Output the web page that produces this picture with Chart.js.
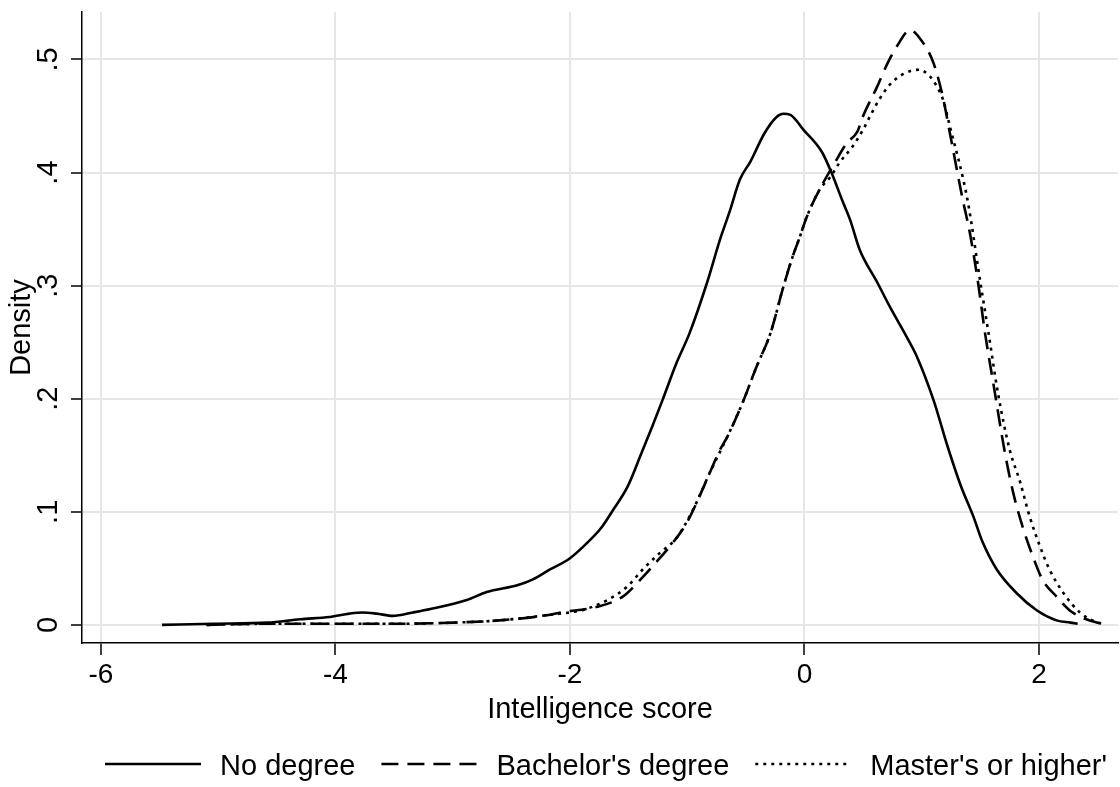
<!DOCTYPE html>
<html>
<head>
<meta charset="utf-8">
<style>
  html, body { margin: 0; padding: 0; background: #fff; }
  #wrap { width: 1120px; height: 787px; position: relative; }
</style>
<script src="https://cdn.jsdelivr.net/npm/chart.js@4.4.1/dist/chart.umd.min.js"></script>
</head>
<body>
<div id="wrap"><canvas id="densityChart"></canvas></div>
<script>
// Kernel density of intelligence score by degree
const FONT = '"Liberation Sans", Arial, Helvetica, sans-serif';

const xTicks = [-6, -4, -2, 0, 2];
const yTicks = [0, 0.1, 0.2, 0.3, 0.4, 0.5];
const yTickLabels = ['0', '.1', '.2', '.3', '.4', '.5'];
const seriesNames = ['No degree', "Bachelor's degree", "Master's or higher'"];

const noDegreeX = [-5.48, -5.04, -4.58, -4.30, -4.05, -3.88, -3.77, -3.65, -3.51, -3.34, -3.19, -2.88, -2.71, -2.45,
  -2.32, -2.17, -2.00, -1.83, -1.74, -1.63, -1.51, -1.39, -1.30, -1.21, -1.09, -0.98, -0.83, -0.72, -0.64, -0.55,
  -0.46, -0.34, -0.24, -0.18, -0.12, -0.01, 0.15, 0.23, 0.32, 0.39, 0.47, 0.62, 0.73, 0.87, 0.96, 1.10, 1.22,
  1.33, 1.44, 1.52, 1.64, 1.81, 1.98, 2.15, 2.27, 2.33];
const noDegreeY = [0.000, 0.001, 0.002, 0.005, 0.007, 0.010, 0.011, 0.010, 0.008, 0.011, 0.014, 0.022, 0.029, 0.035,
  0.040, 0.049, 0.059, 0.075, 0.085, 0.102, 0.122, 0.152, 0.175, 0.199, 0.232, 0.258, 0.303, 0.341, 0.365, 0.394,
  0.410, 0.435, 0.449, 0.452, 0.451, 0.438, 0.418, 0.400, 0.376, 0.358, 0.332, 0.303, 0.281, 0.255, 0.237, 0.199, 0.158,
  0.124, 0.096, 0.073, 0.049, 0.028, 0.013, 0.004, 0.002, 0.001];

const bachelorX = [-5.10, -4.60, -4.00, -3.50, -3.00, -2.60, -2.17, -2.08, -1.77, -1.55, -1.40, -1.26, -1.12, -1.00,
  -0.89, -0.81, -0.72, -0.66, -0.53, -0.41, -0.29, -0.18, -0.10, -0.04, 0.02, 0.16, 0.26, 0.36, 0.45, 0.50, 0.62,
  0.71, 0.79, 0.90, 1.01, 1.10, 1.18, 1.24, 1.35, 1.41, 1.48, 1.54, 1.61, 1.71, 1.78, 1.86, 1.95, 2.03, 2.15, 2.26,
  2.38, 2.50, 2.55];
const bachelorY = [0.000, 0.001, 0.001, 0.001, 0.002, 0.004, 0.009, 0.011, 0.016, 0.025, 0.040, 0.056, 0.073, 0.091,
  0.115, 0.134, 0.155, 0.166, 0.196, 0.228, 0.258, 0.299, 0.326, 0.343, 0.361, 0.391, 0.409, 0.426, 0.436, 0.450, 0.476,
  0.497, 0.512, 0.526, 0.515, 0.497, 0.467, 0.435, 0.376, 0.347, 0.303, 0.258, 0.214, 0.152, 0.117, 0.087, 0.060, 0.040,
  0.025, 0.013, 0.006, 0.002, 0.001];

const masterX = [-5.10, -4.60, -4.00, -3.50, -3.00, -2.60, -2.17, -1.90, -1.68, -1.51, -1.38, -1.23, -1.09, -0.95,
  -0.81, -0.66, -0.53, -0.41, -0.29, -0.18, -0.10, -0.04, 0.02, 0.13, 0.22, 0.30, 0.41, 0.50, 0.56, 0.64, 0.73, 0.84,
  0.98, 1.07, 1.13, 1.18, 1.24, 1.39, 1.50, 1.57, 1.65, 1.75, 1.84, 1.92, 2.01, 2.09, 2.21, 2.35, 2.50, 2.56];
const masterY = [0.000, 0.001, 0.001, 0.001, 0.002, 0.004, 0.009, 0.013, 0.022, 0.034, 0.049, 0.064, 0.077, 0.102,
  0.134, 0.166, 0.196, 0.228, 0.258, 0.299, 0.326, 0.343, 0.361, 0.385, 0.396, 0.409, 0.423, 0.438, 0.450, 0.465, 0.478, 0.487,
  0.491, 0.485, 0.476, 0.465, 0.441, 0.376, 0.303, 0.258, 0.205, 0.155, 0.126, 0.096, 0.069, 0.049, 0.028, 0.011, 0.002, 0.001];

function toPoints(xs, ys) {
  return xs.map((x, i) => ({ x: x, y: ys[i] }));
}

// legend drawn Stata-style below the axis title
const bottomLegend = {
  id: 'bottomLegend',
  afterDraw(chart) {
    const ctx = chart.ctx;
    const lineLen = 96, lineGap = 19, itemGap = 26;
    ctx.save();
    ctx.font = '29px ' + FONT;
    const widths = chart.data.datasets.map(d => ctx.measureText(d.label).width);
    let total = 0;
    widths.forEach((w, i) => { total += lineLen + lineGap + w + (i < widths.length - 1 ? itemGap : 0); });
    let x = 606 - total / 2;
    const y = 764;
    chart.data.datasets.forEach((d, i) => {
      ctx.strokeStyle = '#000';
      ctx.lineWidth = 2.4;
      ctx.setLineDash(d.borderDash || []);
      ctx.beginPath();
      ctx.moveTo(x, y);
      ctx.lineTo(x + lineLen, y);
      ctx.stroke();
      x += lineLen + lineGap;
      ctx.setLineDash([]);
      ctx.fillStyle = '#000';
      ctx.textAlign = 'left';
      ctx.textBaseline = 'middle';
      ctx.fillText(d.label, x, y + 3);
      x += widths[i] + itemGap;
    });
    ctx.restore();
  }
};

new Chart(document.getElementById('densityChart'), {
  type: 'line',
  data: {
    datasets: [{
      label: seriesNames[0],
      data: toPoints(noDegreeX, noDegreeY),
      borderColor: '#000',
      borderWidth: 2.6,
      borderDash: [],
      pointRadius: 0,
      cubicInterpolationMode: 'monotone'
    }, {
      label: seriesNames[1],
      data: toPoints(bachelorX, bachelorY),
      borderColor: '#000',
      borderWidth: 2.6,
      borderDash: [17, 9],
      pointRadius: 0,
      cubicInterpolationMode: 'monotone'
    }, {
      label: seriesNames[2],
      data: toPoints(masterX, masterY),
      borderColor: '#000',
      borderWidth: 2.6,
      borderDash: [3, 5],
      pointRadius: 0,
      cubicInterpolationMode: 'monotone'
    }]
  },
  options: {
    responsive: true,
    maintainAspectRatio: false,
    animation: false,
    layout: { padding: { top: 12, right: 2, left: 0, bottom: 52 } },
    plugins: {
      legend: { display: false },
      tooltip: { enabled: false }
    },
    scales: {
      x: {
        type: 'linear',
        min: -6.162,
        max: 2.674,
        afterBuildTicks: function(scale) {
          scale.ticks = xTicks.map(v => ({ value: v }));
        },
        afterFit: function(scale) {
          scale.height = 92;
          scale.paddingLeft = 0;
          scale.paddingRight = 0;
        },
        grid: { color: '#e6e6e6', lineWidth: 2, tickColor: '#000', tickLength: 12, tickWidth: 1.5 },
        border: { color: '#000', width: 1.5 },
        ticks: {
          color: '#000',
          font: { family: FONT, size: 28 },
          padding: 3,
          maxRotation: 0,
          autoSkip: false,
          callback: function(value) { return String(value); }
        },
        title: {
          display: true,
          text: 'Intelligence score',
          color: '#000',
          font: { family: FONT, size: 29 },
          padding: { top: 0, bottom: 8 }
        }
      },
      y: {
        min: -0.016,
        max: 0.542,
        afterBuildTicks: function(scale) {
          scale.ticks = yTicks.map(v => ({ value: v }));
        },
        afterFit: function(scale) {
          scale.width = 82;
          scale.paddingTop = 0;
          scale.paddingBottom = 0;
        },
        grid: { color: '#e6e6e6', lineWidth: 2, tickColor: '#000', tickLength: 11, tickWidth: 1.5 },
        border: { color: '#000', width: 1.5 },
        ticks: {
          color: '#000',
          font: { family: FONT, size: 29 },
          padding: 10,
          minRotation: 90,
          maxRotation: 90,
          crossAlign: 'center',
          autoSkip: false,
          callback: function(value) {
            const i = yTicks.findIndex(t => Math.abs(t - value) < 1e-9);
            return i >= 0 ? yTickLabels[i] : '';
          }
        },
        title: {
          display: true,
          text: 'Density',
          color: '#000',
          font: { family: FONT, size: 29 },
          padding: { top: 5, bottom: 0 }
        }
      }
    }
  },
  plugins: [bottomLegend]
});
</script>
</body>
</html>
